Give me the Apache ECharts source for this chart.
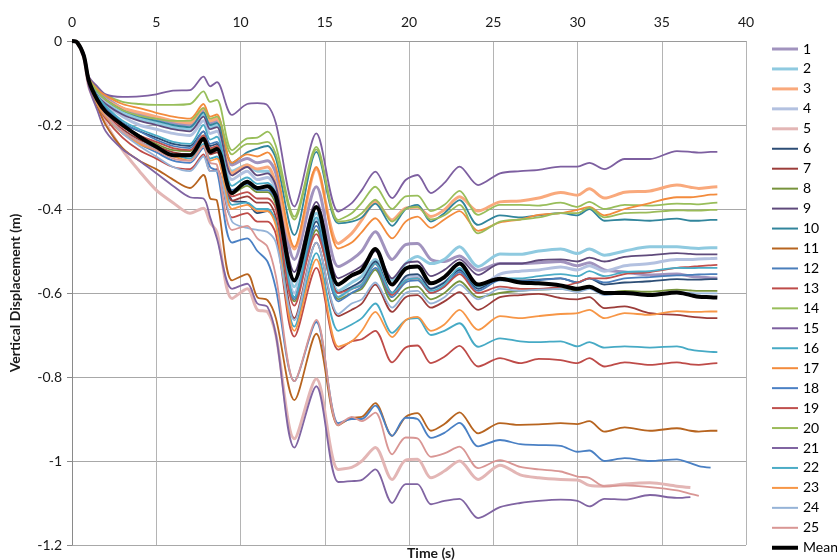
<!DOCTYPE html>
<html><head><meta charset="utf-8">
<script src="https://cdn.jsdelivr.net/npm/echarts@6/dist/echarts.min.js"></script>
<style>html,body{margin:0;padding:0;background:#fff}#c{width:837px;height:560px}</style>
</head><body><div id="c"></div>
<script>
const times = [0,0.3,0.7,1.0,1.5,2,3,4,5,6,7,7.8,8.2,8.6,9.5,10.4,11.0,11.6,12.1,13.2,14.5,15.8,16.6,17.2,18.0,19.0,19.8,20.5,21.3,22.1,23.0,24.1,25.4,26.6,27.7,29.0,30.0,30.7,31.6,32.8,34.3,35.9,36.7,37.2,37.9,38.3];
const xTicks = [0,5,10,15,20,25,30,35,40];
const yTicks = [0,-0.2,-0.4,-0.6,-0.8,-1,-1.2];

const s1 = [0,-0.003,-0.035,-0.092,-0.12, -0.135,-0.16,-0.175,-0.185,-0.195, -0.2,-0.165,-0.195,-0.19,-0.295, -0.28,-0.29,-0.285,-0.315,-0.52, -0.347,-0.537,-0.52,-0.5,-0.454, -0.52,-0.485,-0.482,-0.52,-0.525, -0.512,-0.546,-0.53,-0.53,-0.528, -0.525,-0.535,-0.528,-0.545,-0.55, -0.557,-0.555,-0.56,-0.562,-0.564, -0.565];
const s2 = [0,-0.003,-0.035,-0.093,-0.125, -0.145,-0.17,-0.185,-0.195,-0.205, -0.21,-0.175,-0.205,-0.2,-0.31, -0.295,-0.31,-0.31,-0.35,-0.585, -0.41,-0.595,-0.575,-0.56,-0.52, -0.57,-0.53,-0.513,-0.53,-0.52, -0.49,-0.537,-0.507,-0.508,-0.5, -0.495,-0.506,-0.495,-0.51,-0.5, -0.49,-0.49,-0.493,-0.494,-0.492, -0.492];
const s3 = [0,-0.003,-0.034,-0.09,-0.12, -0.14,-0.16,-0.17,-0.18,-0.19, -0.195,-0.16,-0.19,-0.185,-0.315, -0.295,-0.305,-0.3,-0.34,-0.495, -0.305,-0.482,-0.458,-0.426,-0.383, -0.426,-0.398,-0.396,-0.418,-0.402, -0.371,-0.405,-0.383,-0.381,-0.374, -0.361,-0.367,-0.352,-0.374,-0.36, -0.357,-0.343,-0.348,-0.351,-0.348, -0.347];
const s4 = [0,-0.003,-0.035,-0.094,-0.125, -0.15,-0.18,-0.2,-0.21,-0.22, -0.225,-0.19,-0.22,-0.215,-0.33, -0.31,-0.33,-0.325,-0.355,-0.6, -0.425,-0.61,-0.59,-0.575,-0.53, -0.6,-0.565,-0.56,-0.59,-0.575, -0.545,-0.585,-0.555,-0.548,-0.545, -0.538,-0.545,-0.535,-0.548,-0.535, -0.53,-0.52,-0.52,-0.519,-0.518, -0.517];
const s5 = [0,-0.004,-0.04,-0.11,-0.155, -0.195,-0.26,-0.31,-0.355,-0.385, -0.41,-0.398,-0.432,-0.455,-0.613, -0.59,-0.64,-0.645,-0.7,-0.947, -0.804,-1.02,-1.015,-1.0,-0.968, -1.044,-0.998,-0.996,-1.04,-1.024, -1.0,-1.044,-1.01,-1.033,-1.04, -1.044,-1.045,-1.058,-1.06,-1.055, -1.052,-1.06,-1.063];
const s6 = [0,-0.003,-0.035,-0.096,-0.13, -0.16,-0.195,-0.215,-0.23,-0.245, -0.25,-0.215,-0.25,-0.245,-0.38, -0.385,-0.41,-0.405,-0.43,-0.61, -0.43,-0.6,-0.585,-0.57,-0.525, -0.6,-0.56,-0.555,-0.59,-0.575, -0.545,-0.59,-0.565,-0.57,-0.568, -0.565,-0.575,-0.565,-0.58,-0.575, -0.572,-0.567,-0.568,-0.568,-0.567, -0.567];
const s7 = [0,-0.003,-0.036,-0.098,-0.145, -0.175,-0.21,-0.235,-0.25,-0.265, -0.27,-0.235,-0.27,-0.265,-0.38, -0.37,-0.385,-0.385,-0.42,-0.66, -0.48,-0.655,-0.64,-0.625,-0.58, -0.645,-0.61,-0.605,-0.635,-0.62, -0.598,-0.64,-0.61,-0.605,-0.602, -0.612,-0.615,-0.61,-0.636,-0.632, -0.648,-0.652,-0.656,-0.658,-0.66, -0.66];
const s8 = [0,-0.003,-0.035,-0.095,-0.14, -0.17,-0.2,-0.225,-0.245,-0.26, -0.262,-0.225,-0.258,-0.252,-0.365, -0.345,-0.36,-0.36,-0.39,-0.62, -0.45,-0.615,-0.6,-0.59,-0.545, -0.62,-0.59,-0.585,-0.615,-0.6, -0.572,-0.61,-0.6,-0.595,-0.592, -0.59,-0.595,-0.588,-0.6,-0.595, -0.597,-0.592,-0.594,-0.595,-0.595, -0.595];
const s9 = [0,-0.003,-0.035,-0.094,-0.13, -0.15,-0.175,-0.19,-0.2,-0.21, -0.215,-0.18,-0.21,-0.205,-0.32, -0.3,-0.32,-0.315,-0.345,-0.55, -0.383,-0.565,-0.55,-0.535,-0.5, -0.565,-0.53,-0.525,-0.56,-0.545, -0.52,-0.557,-0.53,-0.53,-0.522, -0.52,-0.525,-0.516,-0.525,-0.514, -0.51,-0.505,-0.507,-0.508,-0.508, -0.508];
const s10 = [0,-0.003,-0.034,-0.09,-0.12, -0.14,-0.165,-0.18,-0.19,-0.2, -0.205,-0.17,-0.2,-0.195,-0.29, -0.265,-0.256,-0.25,-0.28,-0.462, -0.264,-0.434,-0.43,-0.42,-0.387, -0.44,-0.4,-0.39,-0.43,-0.41, -0.379,-0.438,-0.415,-0.42,-0.415, -0.41,-0.415,-0.4,-0.428,-0.425, -0.428,-0.423,-0.428,-0.428,-0.426, -0.426];
const s11 = [0,-0.004,-0.038,-0.105,-0.155, -0.2,-0.255,-0.285,-0.305,-0.33, -0.35,-0.319,-0.375,-0.38,-0.57, -0.555,-0.61,-0.617,-0.66,-0.855, -0.697,-0.915,-0.897,-0.895,-0.862, -0.94,-0.895,-0.886,-0.928,-0.912, -0.884,-0.934,-0.91,-0.914,-0.913, -0.91,-0.912,-0.905,-0.93,-0.92, -0.928,-0.922,-0.928,-0.93,-0.928, -0.928];
const s12 = [0,-0.003,-0.035,-0.096,-0.135, -0.16,-0.195,-0.215,-0.235,-0.25, -0.255,-0.215,-0.245,-0.24,-0.355, -0.34,-0.355,-0.355,-0.38,-0.615, -0.44,-0.62,-0.6,-0.585,-0.54, -0.61,-0.575,-0.57,-0.6,-0.585, -0.55,-0.595,-0.57,-0.572,-0.57, -0.565,-0.575,-0.565,-0.575,-0.565, -0.562,-0.558,-0.557,-0.556,-0.555, -0.555];
const s13 = [0,-0.003,-0.037,-0.1,-0.15, -0.185,-0.23,-0.26,-0.28,-0.3, -0.305,-0.27,-0.31,-0.305,-0.42, -0.41,-0.43,-0.43,-0.46,-0.704, -0.54,-0.735,-0.715,-0.71,-0.69, -0.765,-0.73,-0.725,-0.767,-0.752, -0.726,-0.775,-0.755,-0.767,-0.757, -0.76,-0.767,-0.755,-0.775,-0.765, -0.771,-0.765,-0.77,-0.771,-0.768, -0.767];
const s14 = [0,-0.002,-0.032,-0.088,-0.112, -0.128,-0.145,-0.15,-0.152,-0.152, -0.15,-0.12,-0.145,-0.14,-0.26, -0.232,-0.23,-0.216,-0.25,-0.418, -0.252,-0.426,-0.41,-0.385,-0.347, -0.4,-0.37,-0.368,-0.405,-0.39, -0.357,-0.414,-0.39,-0.39,-0.392, -0.385,-0.395,-0.383,-0.4,-0.39, -0.392,-0.387,-0.388,-0.389,-0.386, -0.385];
const s15 = [0,-0.002,-0.03,-0.085,-0.108, -0.127,-0.133,-0.132,-0.127,-0.118, -0.117,-0.085,-0.108,-0.098,-0.176, -0.15,-0.148,-0.153,-0.196,-0.394, -0.22,-0.406,-0.386,-0.355,-0.311, -0.374,-0.331,-0.319,-0.362,-0.338, -0.299,-0.343,-0.315,-0.31,-0.307, -0.299,-0.299,-0.29,-0.305,-0.281, -0.281,-0.262,-0.264,-0.266,-0.264, -0.264];
const s16 = [0,-0.003,-0.037,-0.1,-0.15, -0.18,-0.215,-0.24,-0.255,-0.27, -0.28,-0.245,-0.28,-0.275,-0.39, -0.385,-0.4,-0.4,-0.43,-0.68, -0.505,-0.69,-0.675,-0.66,-0.625, -0.695,-0.665,-0.66,-0.7,-0.69, -0.672,-0.728,-0.708,-0.715,-0.717, -0.715,-0.727,-0.717,-0.73,-0.727, -0.73,-0.727,-0.735,-0.738,-0.74, -0.741];
const s17 = [0,-0.002,-0.033,-0.088,-0.115, -0.13,-0.15,-0.16,-0.171,-0.18, -0.185,-0.15,-0.18,-0.175,-0.29, -0.27,-0.275,-0.265,-0.3,-0.49, -0.3,-0.494,-0.48,-0.455,-0.422, -0.47,-0.43,-0.418,-0.445,-0.425, -0.405,-0.452,-0.432,-0.425,-0.414, -0.41,-0.402,-0.395,-0.415,-0.4, -0.386,-0.372,-0.372,-0.37,-0.366, -0.365];
const s18 = [0,-0.003,-0.037,-0.1,-0.145, -0.18,-0.22,-0.245,-0.265,-0.285, -0.29,-0.255,-0.3,-0.31,-0.48, -0.47,-0.5,-0.525,-0.59,-0.81, -0.669,-0.91,-0.9,-0.9,-0.868, -0.94,-0.897,-0.9,-0.945,-0.933, -0.909,-0.965,-0.95,-0.96,-0.962, -0.964,-0.978,-0.975,-1.0,-0.993, -1.0,-0.996,-1.005,-1.012,-1.016];
const s19 = [0,-0.003,-0.036,-0.097,-0.14, -0.17,-0.205,-0.225,-0.24,-0.255, -0.26,-0.225,-0.255,-0.25,-0.37, -0.36,-0.375,-0.375,-0.4,-0.63, -0.46,-0.6,-0.59,-0.58,-0.53, -0.605,-0.57,-0.565,-0.6,-0.585, -0.555,-0.6,-0.585,-0.59,-0.59, -0.585,-0.575,-0.565,-0.565,-0.555, -0.55,-0.54,-0.538,-0.536,-0.534, -0.533];
const s20 = [0,-0.002,-0.033,-0.089,-0.12, -0.14,-0.165,-0.178,-0.185,-0.19, -0.19,-0.16,-0.185,-0.18,-0.27, -0.245,-0.245,-0.24,-0.27,-0.425, -0.258,-0.43,-0.425,-0.41,-0.378, -0.43,-0.4,-0.395,-0.425,-0.415, -0.39,-0.458,-0.43,-0.425,-0.42, -0.41,-0.41,-0.397,-0.42,-0.41, -0.408,-0.403,-0.404,-0.404,-0.402, -0.402];
const s21 = [0,-0.004,-0.04,-0.11,-0.165, -0.215,-0.258,-0.285,-0.315,-0.345, -0.372,-0.375,-0.42,-0.47,-0.59, -0.578,-0.625,-0.633,-0.7,-0.968, -0.822,-1.05,-1.048,-1.045,-1.02, -1.1,-1.055,-1.055,-1.103,-1.095, -1.09,-1.136,-1.11,-1.1,-1.095, -1.092,-1.095,-1.108,-1.09,-1.092, -1.081,-1.088,-1.086];
const s22 = [0,-0.003,-0.035,-0.095,-0.13, -0.155,-0.19,-0.21,-0.225,-0.24, -0.245,-0.2,-0.235,-0.228,-0.345, -0.325,-0.34,-0.338,-0.365,-0.61, -0.42,-0.61,-0.59,-0.58,-0.53, -0.6,-0.57,-0.565,-0.595,-0.58, -0.54,-0.585,-0.565,-0.565,-0.56, -0.555,-0.56,-0.548,-0.56,-0.55, -0.548,-0.54,-0.541,-0.54,-0.54, -0.54];
const s23 = [0,-0.003,-0.036,-0.098,-0.15, -0.18,-0.22,-0.245,-0.26,-0.275, -0.285,-0.25,-0.285,-0.28,-0.4, -0.39,-0.405,-0.405,-0.44,-0.69, -0.52,-0.728,-0.715,-0.69,-0.645, -0.705,-0.665,-0.657,-0.69,-0.675, -0.64,-0.688,-0.655,-0.66,-0.655, -0.65,-0.648,-0.64,-0.66,-0.648, -0.652,-0.643,-0.645,-0.645,-0.644, -0.644];
const s24 = [0,-0.003,-0.036,-0.097,-0.14, -0.175,-0.22,-0.25,-0.275,-0.3, -0.31,-0.275,-0.31,-0.31,-0.43, -0.445,-0.45,-0.455,-0.48,-0.665, -0.48,-0.65,-0.625,-0.615,-0.575, -0.635,-0.6,-0.595,-0.625,-0.61, -0.58,-0.615,-0.59,-0.595,-0.592, -0.59,-0.598,-0.59,-0.605,-0.6, -0.603,-0.598,-0.6,-0.601,-0.601, -0.601];
const s25 = [0,-0.003,-0.037,-0.1,-0.145, -0.175,-0.215,-0.24,-0.26,-0.28, -0.285,-0.25,-0.29,-0.295,-0.45, -0.44,-0.47,-0.49,-0.56,-0.81, -0.664,-0.915,-0.895,-0.905,-0.885, -0.984,-0.944,-0.946,-0.99,-0.982, -0.966,-1.017,-0.998,-1.014,-1.02, -1.025,-1.037,-1.04,-1.06,-1.058, -1.062,-1.07,-1.078,-1.083];
const meanVals = [0,-0.003,-0.035,-0.095,-0.14, -0.168,-0.2,-0.228,-0.252,-0.272, -0.272,-0.233,-0.264,-0.257,-0.362, -0.335,-0.35,-0.346,-0.37,-0.57, -0.395,-0.58,-0.558,-0.546,-0.495, -0.58,-0.542,-0.537,-0.577,-0.562, -0.53,-0.58,-0.566,-0.575,-0.577, -0.582,-0.59,-0.585,-0.6,-0.6, -0.605,-0.599,-0.605,-0.609,-0.61, -0.611];

const runs = [s1,s2,s3,s4,s5,s6,s7,s8,s9,s10,s11,s12,s13,s14,s15,s16,s17,s18,s19,s20,s21,s22,s23,s24,s25];
const names = ['1','2','3','4','5','6','7','8','9','10','11','12','13','14','15','16','17','18','19','20','21','22','23','24','25'];
const meanName = 'Mean';
const colors = ['#A193BE','#8FCAE0','#F9A97C','#B3C1E0','#E3B6B5','#2C4D75','#9C3D3A','#77933C','#5F4A7B','#31859C','#B7641F','#4A7EBB','#BE4B48','#98BE5A','#7D5FA0','#46AAC5','#F38B3C','#4A80C4','#C0504D','#9BBB59','#8064A2','#4BACC6','#F79646','#95B3D7','#D99694'];
const widths = [3,3,3,3,3,1.8,1.8,1.8,1.8,1.8,1.8,1.8,1.8,1.8,1.8,1.8,1.8,1.8,1.8,1.8,1.8,1.8,1.8,1.8,1.8];

const FONT = 'Lato, "Liberation Sans", sans-serif';
const toPts = v => v.map((y, i) => [times[i], y]);
const barIcon = h => 'path://M0,0h26v' + h + 'h-26z';

const series = runs.map((r, k) => ({
  name: names[k], type: 'line', data: toPts(r), showSymbol: false, symbol: 'none',
  smooth: 0.3, lineStyle: { width: widths[k], color: colors[k] }, itemStyle: { color: colors[k] },
  animation: false, z: 2
}));
series.push({
  name: meanName, type: 'line', data: toPts(meanVals), showSymbol: false, symbol: 'none',
  smooth: 0.3, lineStyle: { width: 4, color: '#000' }, itemStyle: { color: '#000' },
  animation: false, z: 5
});

const legendData = names.map((n, k) => ({ name: n, icon: barIcon(widths[k] > 2 ? 3 : 2) }));
legendData.push({ name: meanName, icon: barIcon(4) });

const chart = echarts.init(document.getElementById('c'), null, { renderer: 'canvas' });
chart.setOption({
  animation: false,
  backgroundColor: '#fff',
  grid: { left: 69, right: 91, top: 41, bottom: 15, containLabel: false },
  xAxis: {
    type: 'value', position: 'top', min: xTicks[0], max: xTicks[xTicks.length - 1], interval: 5,
    axisLine: { show: true, onZero: false, lineStyle: { color: '#9a9a9a', width: 1 } },
    axisTick: { show: false },
    axisLabel: { fontSize: 14, color: '#1a1a1a', fontFamily: FONT, margin: 12 },
    splitLine: { show: true, lineStyle: { color: '#b4b4b4', width: 1 } }
  },
  yAxis: {
    type: 'value', min: yTicks[yTicks.length - 1], max: yTicks[0], interval: 0.2,
    name: 'Vertical Displacement (m)', nameLocation: 'middle', nameGap: 50, nameRotate: 90,
    nameTextStyle: { fontSize: 14, fontWeight: 'bold', color: '#1a1a1a', fontFamily: FONT },
    axisLine: { show: true, onZero: false, lineStyle: { color: '#8a8a8a', width: 1 } },
    axisTick: { show: true, inside: false, length: 5, lineStyle: { color: '#8a8a8a' } },
    axisLabel: { fontSize: 14, color: '#1a1a1a', fontFamily: FONT, margin: 10,
      formatter: v => String(Math.round(v * 10) / 10) },
    splitLine: { show: true, lineStyle: { color: '#a8a8a8', width: 1 } }
  },
  legend: {
    orient: 'vertical', left: 772, top: 42, padding: 0, itemWidth: 26, itemHeight: 14, itemGap: 5.95,
    height: 518,
    data: legendData,
    textStyle: { fontSize: 14, color: '#000', fontFamily: FONT },
    selectedMode: false
  },
  graphic: [{
    type: 'text', left: 407, top: 546,
    style: { text: 'Time (s)', font: 'bold 14px ' + FONT, fill: '#1a1a1a', textAlign: 'center' }
  }],
  series: series
});
</script></body></html>
